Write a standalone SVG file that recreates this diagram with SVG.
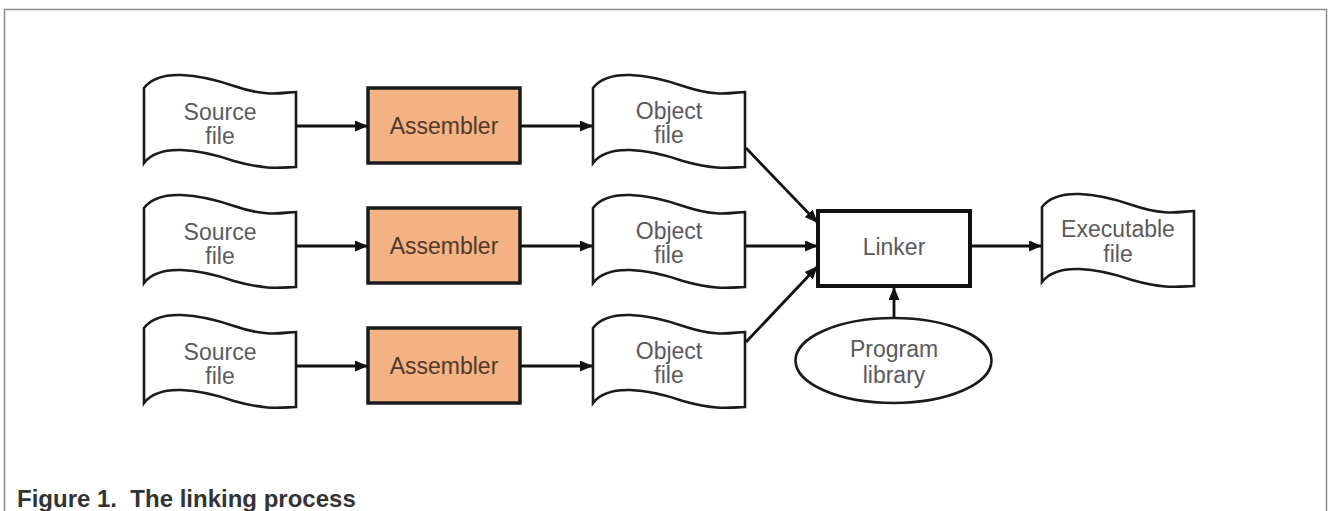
<svg xmlns="http://www.w3.org/2000/svg" xmlns:xlink="http://www.w3.org/1999/xlink" width="1328" height="511" viewBox="0 0 1328 511">
<style>
.doc{fill:#fff;stroke:#1a1a1a;stroke-width:2.6;stroke-linejoin:miter}
.asm{fill:#F4B183;stroke:#1a1a1a;stroke-width:3.5}
.lnk{fill:#fff;stroke:#111;stroke-width:4}
.ell{fill:#fff;stroke:#1a1a1a;stroke-width:2.6}
.t{font-family:"Liberation Sans",Arial,sans-serif;font-size:23px;fill:#5a5a5a;text-anchor:middle}
.ta{font-family:"Liberation Sans",Arial,sans-serif;font-size:23px;fill:#4e3a2a;text-anchor:middle}
.conn line{stroke:#111;stroke-width:2.8;marker-end:url(#ah)}
.cap{font-family:"Liberation Sans",Arial,sans-serif;font-size:24px;font-weight:bold;fill:#333}
</style>
<defs>
<marker id="ah" markerWidth="13" markerHeight="11" refX="12" refY="5.5" orient="auto" markerUnits="userSpaceOnUse">
<path d="M0,0 L13,5.5 L0,11 Z" fill="#111"/>
</marker>
<path id="docshape" d="M0,0 C15,-20 55,-14 90,-2 S140,4 152,4 L152,79 C140,79 125,83 90,73 C55,61 15,55 0,75 Z"/>
</defs>
<rect x="0" y="0" width="1328" height="511" fill="#fff"/>
<path d="M4.5,520 L4.5,9.5 L1326.5,9.5 L1326.5,520" fill="none" stroke="#8c8c8c" stroke-width="1.5"/>

<g id="src1"><use href="#docshape" class="doc" transform="translate(144,88)"/><text class="t" x="220" y="120">Source</text><text class="t" x="220" y="144">file</text></g>
<g id="src2"><use href="#docshape" class="doc" transform="translate(144,208)"/><text class="t" x="220" y="240">Source</text><text class="t" x="220" y="264">file</text></g>
<g id="src3"><use href="#docshape" class="doc" transform="translate(144,328)"/><text class="t" x="220" y="360">Source</text><text class="t" x="220" y="384">file</text></g>

<g id="asm1"><rect class="asm" x="368" y="88" width="152" height="75"/><text class="ta" x="444" y="134">Assembler</text></g>
<g id="asm2"><rect class="asm" x="368" y="208" width="152" height="75"/><text class="ta" x="444" y="254">Assembler</text></g>
<g id="asm3"><rect class="asm" x="368" y="328" width="152" height="75"/><text class="ta" x="444" y="374">Assembler</text></g>

<g id="obj1"><use href="#docshape" class="doc" transform="translate(593,88)"/><text class="t" x="669" y="119">Object</text><text class="t" x="669" y="143">file</text></g>
<g id="obj2"><use href="#docshape" class="doc" transform="translate(593,208)"/><text class="t" x="669" y="239">Object</text><text class="t" x="669" y="263">file</text></g>
<g id="obj3"><use href="#docshape" class="doc" transform="translate(593,328)"/><text class="t" x="669" y="359">Object</text><text class="t" x="669" y="383">file</text></g>

<g id="linker"><rect class="lnk" x="818" y="211" width="152" height="75"/><text class="t" x="894" y="255">Linker</text></g>

<g id="exe"><use href="#docshape" class="doc" transform="translate(1042,207)"/><text class="t" x="1118" y="237">Executable</text><text class="t" x="1118" y="262">file</text></g>

<g id="lib"><ellipse class="ell" cx="893.5" cy="360.5" rx="98" ry="42.5"/><text class="t" x="894" y="357">Program</text><text class="t" x="894" y="383">library</text></g>

<g id="connectors" class="conn">
<line x1="296" y1="126" x2="367" y2="126"/>
<line x1="296" y1="246" x2="367" y2="246"/>
<line x1="296" y1="366" x2="367" y2="366"/>
<line x1="520" y1="126" x2="592" y2="126"/>
<line x1="520" y1="246" x2="592" y2="246"/>
<line x1="520" y1="366" x2="592" y2="366"/>
<line x1="746" y1="148" x2="817" y2="222"/>
<line x1="746" y1="246" x2="817" y2="246"/>
<line x1="746" y1="342" x2="817" y2="267"/>
<line x1="970" y1="246" x2="1041" y2="246"/>
<line x1="894" y1="318" x2="894" y2="288"/>
</g>

<text class="cap" x="17" y="507">Figure 1.&#160; The linking process</text>
</svg>
